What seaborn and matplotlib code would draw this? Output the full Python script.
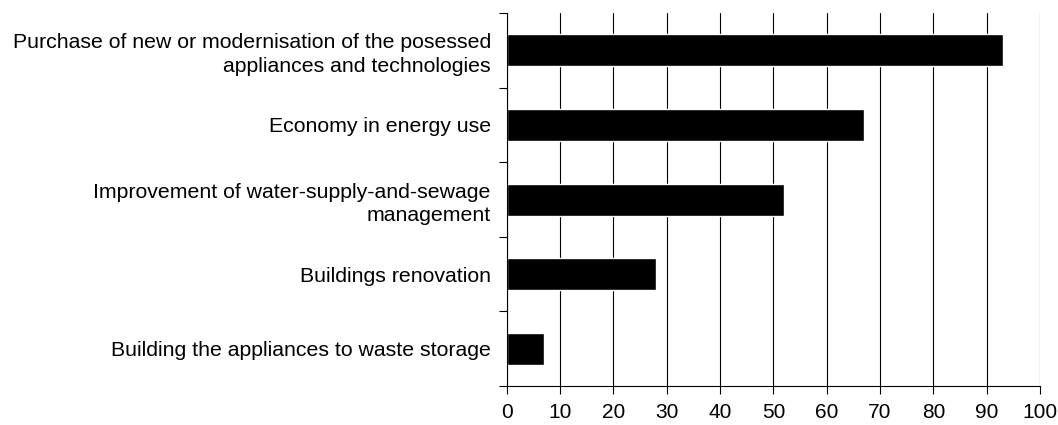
import matplotlib
matplotlib.use("Agg")
import matplotlib.pyplot as plt
import numpy as np
import pandas as pd
import seaborn as sns

categories = [
    "Purchase of new or modernisation of the posessed\nappliances and technologies",
    "Economy in energy use",
    "Improvement of water-supply-and-sewage\nmanagement",
    "Buildings renovation",
    "Building the appliances to waste storage",
]
values = [93, 67, 52, 28, 7]
x_ticks = [0, 10, 20, 30, 40, 50, 60, 70, 80, 90, 100]

sns.set_style("white")
plt.rcParams["font.family"] = ["Liberation Sans", "DejaVu Sans"]
plt.rcParams["text.color"] = "black"
plt.rcParams["xtick.color"] = "black"
plt.rcParams["ytick.color"] = "black"

df = pd.DataFrame({"category": categories, "value": values})

fig = plt.figure(figsize=(10.58, 4.25), dpi=100)
ax = fig.add_axes([0.479, 0.092, 0.504, 0.877])

sns.barplot(data=df, x="value", y="category", color="black", saturation=1,
            width=0.43, orient="h", ax=ax)

ax.set_xlim(0, 100)
ax.set_ylim(len(categories) - 0.5, -0.5)
ax.set_xticks(x_ticks)
ax.set_xticklabels([str(t) for t in x_ticks], fontsize=15)
ax.xaxis.grid(True, color="black", linewidth=0.8)
ax.set_axisbelow(True)

# category boundaries as major ticks, names on minor ticks
n = len(categories)
ax.set_yticks(np.arange(-0.5, n, 1.0))
ax.set_yticklabels([])
ax.set_yticks(np.arange(n), minor=True)
ax.set_yticklabels(categories, minor=True, fontsize=15.3, ha="right", linespacing=1.3)
ax.tick_params(axis="y", which="major", direction="out", length=6, width=0.8, color="black", left=True)
ax.tick_params(axis="y", which="minor", length=0, pad=11.5, labelcolor="black")
ax.tick_params(axis="x", direction="out", length=6, width=0.8, color="black", bottom=True, pad=6,
               labelcolor="black")

ax.set_xlabel("")
ax.set_ylabel("")
for side in ["top", "right"]:
    ax.spines[side].set_visible(False)
for side in ["left", "bottom"]:
    ax.spines[side].set_color("black")
    ax.spines[side].set_linewidth(0.8)

fig.savefig("out.png", dpi=100)
